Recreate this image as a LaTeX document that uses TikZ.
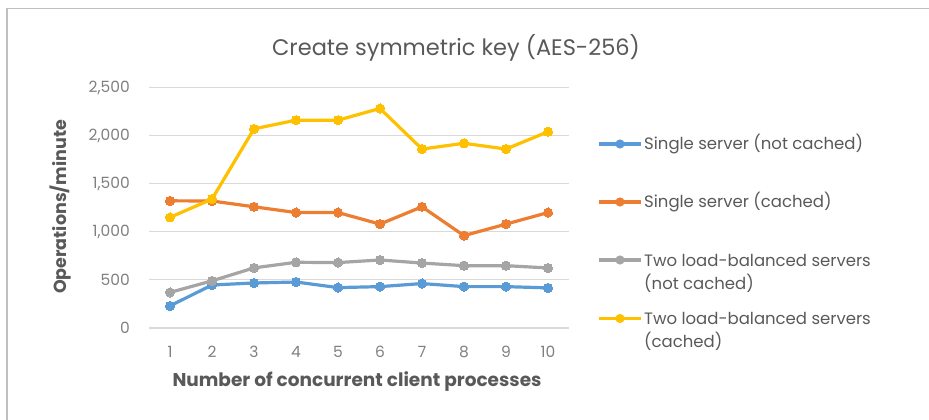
\documentclass[tikz,border=0pt]{standalone}
\usepackage{fontspec}
\setmainfont{Poppins}
\begin{document}
\begin{tikzpicture}[x=1pt,y=-1pt,
  gridline/.style={draw=black!15,line width=1.1pt},
  ticklabel/.style={text=black!50,font=\fontsize{15.5}{17}\selectfont,inner sep=0pt},
  legendtext/.style={text=black!65,font=\fontsize{16.5}{23}\selectfont,anchor=west,align=left,inner sep=0pt},
  axistitle/.style={text=black!65,font=\fontsize{18.5}{20}\selectfont\bfseries,inner sep=0pt},
  series/.style={line width=3.2pt,line join=round,mark=*,mark size=4.6pt,mark options={solid,line width=0pt}}]
\definecolor{sblue}{HTML}{5B9BD5}
\definecolor{sorange}{HTML}{ED7D31}
\definecolor{sgray}{HTML}{A5A5A5}
\definecolor{syellow}{HTML}{FFC000}
\useasboundingbox (0,0) rectangle (929,420);
% chart frame
\draw[draw=black!25,line width=1.5pt] (7,440) -- (7,8.5) -- (940,8.5);
% title
\node[text=black!65,font=\fontsize{22.5}{24}\selectfont] (title) at (456,48) {Create symmetric key (AES-256)};
% gridlines and value labels (y = 328 - v*0.0962)
\foreach \v/\lab in {0/0,500/500,1000/{1,000},1500/{1,500},2000/{2,000},2500/{2,500}}{
  \draw[gridline] (149,{328-\v*0.0962}) -- (569,{328-\v*0.0962});
  \node[ticklabel,anchor=east] (yl\v) at (130,{328-\v*0.0962}) {\lab};
}
% category labels
\foreach \i in {1,...,10}{
  \node[ticklabel] (xl\i) at ({149+42*(\i-0.5)},352) {\i};
}
% axis titles
\node[axistitle] (xtitle) at (357,382) {Number of concurrent client processes};
\node[axistitle,rotate=90,font=\fontsize{17.5}{20}\selectfont\bfseries] (ytitle) at (61,207) {Operations/minute};
% data series
\draw[series,sblue] plot coordinates {
  (170,{328-230*0.0962}) (212,{328-447*0.0962}) (254,{328-468*0.0962}) (296,{328-478*0.0962}) (338,{328-420*0.0962})
  (380,{328-430*0.0962}) (422,{328-462*0.0962}) (464,{328-430*0.0962}) (506,{328-430*0.0962}) (548,{328-417*0.0962})};
\draw[series,sgray] plot coordinates {
  (170,{328-370*0.0962}) (212,{328-490*0.0962}) (254,{328-625*0.0962}) (296,{328-683*0.0962}) (338,{328-680*0.0962})
  (380,{328-707*0.0962}) (422,{328-675*0.0962}) (464,{328-648*0.0962}) (506,{328-648*0.0962}) (548,{328-624*0.0962})};
\draw[series,sorange] plot coordinates {
  (170,{328-1322*0.0962}) (212,{328-1320*0.0962}) (254,{328-1260*0.0962}) (296,{328-1200*0.0962}) (338,{328-1200*0.0962})
  (380,{328-1080*0.0962}) (422,{328-1260*0.0962}) (464,{328-960*0.0962}) (506,{328-1080*0.0962}) (548,{328-1200*0.0962})};
\draw[series,syellow] plot coordinates {
  (170,{328-1150*0.0962}) (212,{328-1340*0.0962}) (254,{328-2070*0.0962}) (296,{328-2160*0.0962}) (338,{328-2160*0.0962})
  (380,{328-2282*0.0962}) (422,{328-1860*0.0962}) (464,{328-1920*0.0962}) (506,{328-1860*0.0962}) (548,{328-2040*0.0962})};
% legend
\foreach \n/\c/\y in {1/sblue/144,2/sorange/202,3/sgray/260,4/syellow/318.5}{
  \coordinate (lga\n) at (599,\y);
  \coordinate (lgb\n) at (641,\y);
  \draw[\c,line width=3.2pt] (lga\n) -- (lgb\n);
  \fill[\c] (620,\y) circle (4.6pt);
}
\node[legendtext] (lt1) at (644,144) {Single server (not cached)};
\node[legendtext] (lt2) at (644,202) {Single server (cached)};
\node[legendtext,anchor=base west] (lt3) at (644,289) {Two load-balanced servers\\(not cached)};
\node[legendtext,anchor=base west] (lt4) at (644,347.5) {Two load-balanced servers\\(cached)};
\end{tikzpicture}
\end{document}
